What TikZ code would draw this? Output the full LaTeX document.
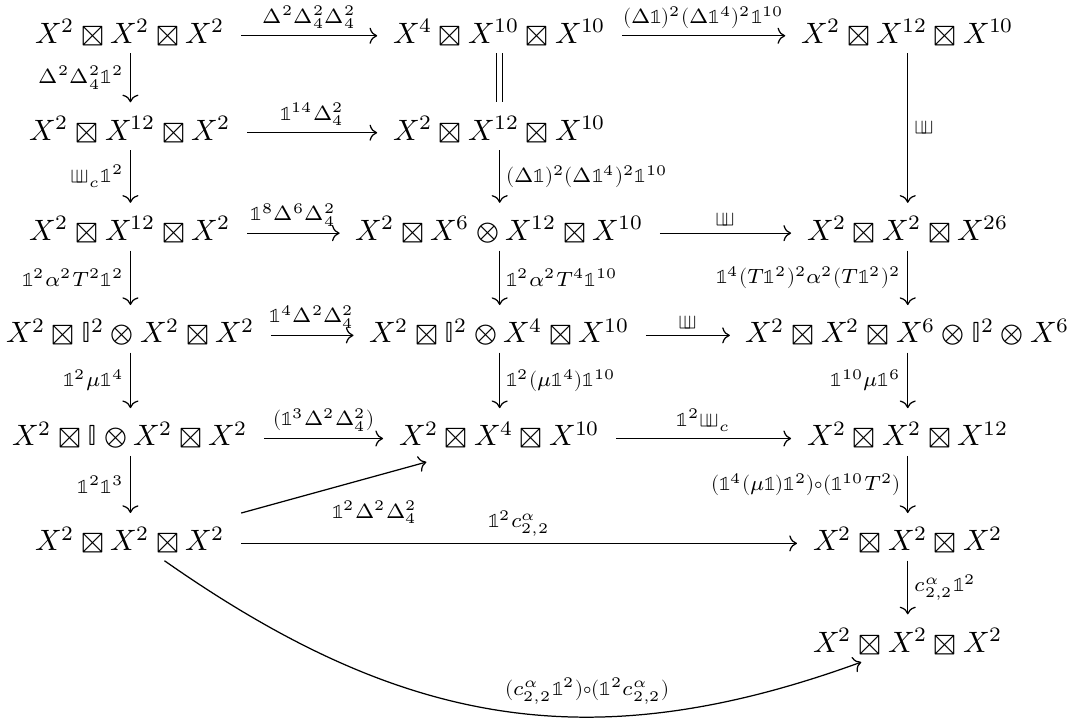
\documentclass[tikz,border=0pt]{standalone}
\usepackage{amsmath}
\usepackage{unicode-math}
\usepackage{tikz}
\usetikzlibrary{arrows.meta, positioning, calc}
\newcommand{\idm}{\symbb{1}}
\newcommand{\shuf}{\mathord{\sqcup\mkern-7mu\sqcup}}
\tikzstyle{obj} = [anchor=base, inner xsep=5pt, inner ysep=3pt, text height=9pt, text depth=0pt,
  font=\fontsize{9.5}{11.5}\selectfont]
\tikzstyle{arrow} = [-{To}, line width=0.4pt]
\tikzstyle{harrow} = [arrow, transform canvas={yshift=-2.1pt}]
\tikzstyle{lbl} = [inner sep=2pt, font=\fontsize{9.5}{11.5}\selectfont,
  execute at begin node=$\scriptstyle, execute at end node=$]

\begin{document}
\begin{tikzpicture}
  \useasboundingbox (0,0) rectangle (12.30,-8.17);

  % Row 1
  \node (r1c1) [obj] at (1.48,-0.49) {$X^2\boxtimes X^2\boxtimes X^2$};
  \node (r1c2) [obj] at (5.67,-0.49) {$X^4\boxtimes X^{10}\boxtimes X^{10}$};
  \node (r1c3) [obj] at (10.30,-0.49) {$X^2\boxtimes X^{12}\boxtimes X^{10}$};

  % Row 2
  \node (r2c1) [obj] at (1.48,-1.59) {$X^2\boxtimes X^{12}\boxtimes X^2$};
  \node (r2c2) [obj] at (5.67,-1.59) {$X^2\boxtimes X^{12}\boxtimes X^{10}$};

  % Row 3
  \node (r3c1) [obj] at (1.48,-2.73) {$X^2\boxtimes X^{12}\boxtimes X^2$};
  \node (r3c2) [obj] at (5.67,-2.73) {$X^2\boxtimes X^6\otimes X^{12}\boxtimes X^{10}$};
  \node (r3c3) [obj] at (10.30,-2.73) {$X^2\boxtimes X^2\boxtimes X^{26}$};

  % Row 4
  \node (r4c1) [obj] at (1.48,-3.89) {$X^2\boxtimes\symbb{I}^2\otimes X^2\boxtimes X^2$};
  \node (r4c2) [obj] at (5.67,-3.89) {$X^2\boxtimes\symbb{I}^2\otimes X^4\boxtimes X^{10}$};
  \node (r4c3) [obj] at (10.30,-3.89) {$X^2\boxtimes X^2\boxtimes X^6\otimes\symbb{I}^2\otimes X^6$};

  % Row 5
  \node (r5c1) [obj] at (1.48,-5.06) {$X^2\boxtimes\symbb{I}\otimes X^2\boxtimes X^2$};
  \node (r5c2) [obj] at (5.67,-5.06) {$X^2\boxtimes X^4\boxtimes X^{10}$};
  \node (r5c3) [obj] at (10.30,-5.06) {$X^2\boxtimes X^2\boxtimes X^{12}$};

  % Row 6 and 7
  \node (r6c1) [obj] at (1.48,-6.25) {$X^2\boxtimes X^2\boxtimes X^2$};
  \node (r6c3) [obj] at (10.30,-6.25) {$X^2\boxtimes X^2\boxtimes X^2$};
  \node (r7c3) [obj] at (10.30,-7.40) {$X^2\boxtimes X^2\boxtimes X^2$};

  % horizontal maps
  \draw[harrow] (r1c1.east) -- node[lbl, above] {\Delta^2\Delta_4^2\Delta_4^2} (r1c2.west);
  \draw[harrow] (r1c2.east) -- node[lbl, above] {(\Delta\idm)^2(\Delta\idm^4)^2\idm^{10}} (r1c3.west);
  \draw[harrow] (r2c1.east) -- node[lbl, above] {\idm^{14}\Delta_4^2} (r2c2.west);
  \draw[harrow] (r3c1.east) -- node[lbl, above] {\idm^8\Delta^6\Delta_4^2} (r3c2.west);
  \draw[harrow] (r3c2.east) -- node[lbl, above] {\shuf} (r3c3.west);
  \draw[harrow] (r4c1.east) -- node[lbl, above] {\idm^4\Delta^2\Delta_4^2} (r4c2.west);
  \draw[harrow] (r4c2.east) -- node[lbl, above] {\shuf} (r4c3.west);
  \draw[harrow] (r5c1.east) -- node[lbl, above] {(\idm^3\Delta^2\Delta_4^2)} (r5c2.west);
  \draw[harrow] (r5c2.east) -- node[lbl, above] {\idm^2\shuf_c} (r5c3.west);
  \draw[harrow] (r6c1.east) -- node[lbl, above] {\idm^2c^\alpha_{2,2}} (r6c3.west);

  % vertical maps
  \draw[arrow] (r1c1) -- node[lbl, left] {\Delta^2\Delta_4^2\idm^2} (r2c1);
  \draw[double, double distance=1.5pt] (r1c2) -- (r2c2);
  \draw[arrow] (r1c3) -- node[lbl, right] {\shuf} (r3c3);
  \draw[arrow] (r2c1) -- node[lbl, left] {\shuf_c\idm^2} (r3c1);
  \draw[arrow] (r2c2) -- node[lbl, right] {(\Delta\idm)^2(\Delta\idm^4)^2\idm^{10}} (r3c2);
  \draw[arrow] (r3c1) -- node[lbl, left] {\idm^2\alpha^2T^2\idm^2} (r4c1);
  \draw[arrow] (r3c2) -- node[lbl, right] {\idm^2\alpha^2T^4\idm^{10}} (r4c2);
  \draw[arrow] (r3c3) -- node[lbl, left] {\idm^4(T\idm^2)^2\alpha^2(T\idm^2)^2} (r4c3);
  \draw[arrow] (r4c1) -- node[lbl, left] {\idm^2\mu\idm^4} (r5c1);
  \draw[arrow] (r4c2) -- node[lbl, right] {\idm^2(\mu\idm^4)\idm^{10}} (r5c2);
  \draw[arrow] (r4c3) -- node[lbl, left] {\idm^{10}\mu\idm^6} (r5c3);
  \draw[arrow] (r5c1) -- node[lbl, left] {\idm^2\idm^3} (r6c1);
  \draw[arrow] (r5c3) -- node[lbl, left] {(\idm^4(\mu\idm)\idm^2)\circ(\idm^{10}T^2)} (r6c3);
  \draw[arrow] (r6c3) -- node[lbl, right] {c^\alpha_{2,2}\idm^2} (r7c3);

  % diagonal and curved maps
  \draw[arrow] (r6c1.north east) -- node[lbl, pos=0.72, below=2mm] {\idm^2\Delta^2\Delta_4^2}
    ([xshift=14pt,yshift=-2pt]r5c2.south west);
  \draw[arrow] (r6c1) to[out=-35, in=200, looseness=1.05]
    node[lbl, pos=0.63, above=2pt] {(c^\alpha_{2,2}\idm^2)\circ(\idm^2c^\alpha_{2,2})}
    ([xshift=-15pt]r7c3.south);
\end{tikzpicture}
\end{document}
